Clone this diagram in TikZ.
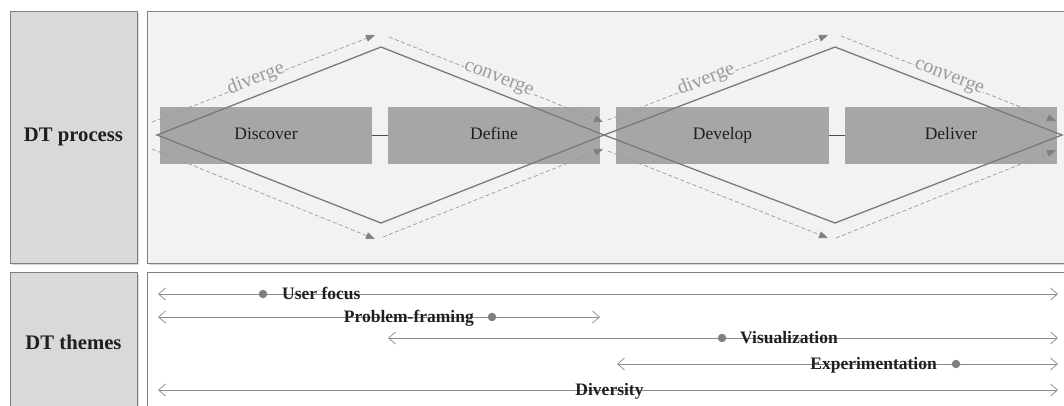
\documentclass[tikz,border=0pt]{standalone}
\usepackage{fontspec}
\setmainfont{Liberation Serif}
\usetikzlibrary{arrows.meta,shadows}
\definecolor{lblfill}{HTML}{D9D9D9}
\definecolor{procbg}{HTML}{F2F2F2}
\definecolor{boxgray}{HTML}{A6A6A6}
\definecolor{edgec}{HTML}{808080}
\definecolor{dashc}{HTML}{9A9A9A}
\definecolor{txtc}{HTML}{1F1F1F}
\definecolor{rowc}{HTML}{8C8C8C}
\begin{document}
\begin{tikzpicture}[x=1pt,y=-1pt,
  shad/.style={drop shadow={shadow xshift=2pt,shadow yshift=-2pt,opacity=0.3}},
  labelbox/.style={draw=edgec, line width=0.8pt, fill=lblfill, shad, inner sep=0,
    font=\fontsize{20.7}{24}\selectfont\bfseries, text=txtc},
  areabox/.style={draw=edgec, line width=0.8pt, shad, inner sep=0},
  phase/.style={fill=boxgray, inner sep=0, minimum width=212, minimum height=57,
    text height=12pt, text depth=4pt,
    font=\fontsize{17.5}{20}\selectfont, text=txtc},
  link/.style={draw=txtc!80, line width=0.8pt},
  diam/.style={draw=edgec!95!black, line width=1.3pt, line join=miter},
  flow/.style={draw=dashc, line width=0.7pt, dash pattern=on 4pt off 2.5pt,
    -{Triangle[length=9pt,width=7pt,fill=edgec,color=edgec]}},
  flowlbl/.style={font=\fontsize{20}{24}\selectfont, text=dashc, fill=procbg,
    inner sep=0.5pt, anchor=mid},
  row/.style={draw=rowc, line width=0.8pt,
    {Straight Barb[length=7pt,width=12pt,line width=0.7pt]}-{Straight Barb[length=7pt,width=12pt,line width=0.7pt]}},
  dot/.style={circle, fill=edgec, inner sep=0, minimum size=8.5},
  theme/.style={font=\fontsize{17.5}{20}\selectfont\bfseries, text=txtc, inner sep=0}
]
\useasboundingbox (0,0) rectangle (1064,405);
\begin{scope}
\clip (0,0) rectangle (1064,405);
% frames
\node[labelbox, minimum width=127, minimum height=252] (lp) at (73.5,137) {DT process};
\node[areabox, fill=procbg, minimum width=923, minimum height=252] (pa) at (608.5,137) {};
\node[labelbox, minimum width=127, minimum height=140] (lt) at (73.5,342) {DT themes};
\node[areabox, fill=white, minimum width=923, minimum height=140] (ta) at (608.5,342) {};

% phases
\node[phase] (disc) at (266,135.5) {Discover};
\node[phase] (defi) at (494,135.5) {Define};
\node[phase, minimum width=213] (deve) at (722.5,135.5) {Develop};
\node[phase] (deli) at (951,135.5) {Deliver};
\draw[link] (disc.east) -- (defi.west);
\draw[link] (deve.east) -- (deli.west);

% flow arrows
\coordinate (u1s) at (152,122); \coordinate (u1e) at (375,35);
\coordinate (l1s) at (152,149); \coordinate (l1e) at (375,239);
\coordinate (u2s) at (389,37);  \coordinate (u2e) at (603,122);
\coordinate (l2s) at (383,237); \coordinate (l2e) at (603,149);
\coordinate (u3s) at (608,120); \coordinate (u3e) at (828,35);
\coordinate (l3s) at (608,151); \coordinate (l3e) at (828,238);
\coordinate (u4s) at (841,36);  \coordinate (u4e) at (1056,121);
\coordinate (l4s) at (836,238); \coordinate (l4e) at (1056,150);
\draw[flow] (u1s) -- node[flowlbl, pos=0.47, sloped] {diverge} (u1e);
\draw[flow] (l1s) -- (l1e);
\draw[flow] (u2s) -- node[flowlbl, pos=0.51, sloped] {converge} (u2e);
\draw[flow] (l2s) -- (l2e);
\draw[flow] (u3s) -- node[flowlbl, pos=0.45, sloped] {diverge} (u3e);
\draw[flow] (l3s) -- (l3e);
\draw[flow] (u4s) -- node[flowlbl, pos=0.50, sloped] {converge} (u4e);
\draw[flow] (l4s) -- (l4e);

% diamonds
\coordinate (A) at (157,135);
\coordinate (B) at (381,47);
\coordinate (C) at (381,223);
\coordinate (D) at (604,135);
\coordinate (E) at (835,47);
\coordinate (F) at (835,223);
\coordinate (G) at (1062,135);
\draw[diam] (A) -- (B) -- (D) -- (C) -- cycle;
\draw[diam] (D) -- (E) -- (G) -- (F) -- cycle;

% themes
\coordinate (r1l) at (158,294); \coordinate (r1r) at (1058,294);
\coordinate (r2l) at (158,317); \coordinate (r2r) at (600,317);
\coordinate (r3l) at (388,338); \coordinate (r3r) at (1058,338);
\coordinate (r4l) at (617,364); \coordinate (r4r) at (1058,364);
\coordinate (r5l) at (158,390); \coordinate (r5r) at (1058,390);
\draw[row] (r1l) -- (r1r);
\draw[row] (r2l) -- (r2r);
\draw[row] (r3l) -- (r3r);
\draw[row] (r4l) -- (r4r);
\draw[row] (r5l) -- (r5r);
\node[dot] (d1) at (263,294) {};
\node[dot] (d2) at (492,317) {};
\node[dot] (d3) at (722,338) {};
\node[dot] (d4) at (956,364) {};
\node[theme, anchor=base west] (t1) at (282,299.5) {User focus};
\node[theme, anchor=base east] (t2) at (474,322.5) {Problem-framing};
\node[theme, anchor=base west] (t3) at (740,343.5) {Visualization};
\node[theme, anchor=base east] (t4) at (937,369.5) {Experimentation};
\node[theme, anchor=base] (t5) at (609.5,395.5) {Diversity};
\end{scope}
\end{tikzpicture}
\end{document}
